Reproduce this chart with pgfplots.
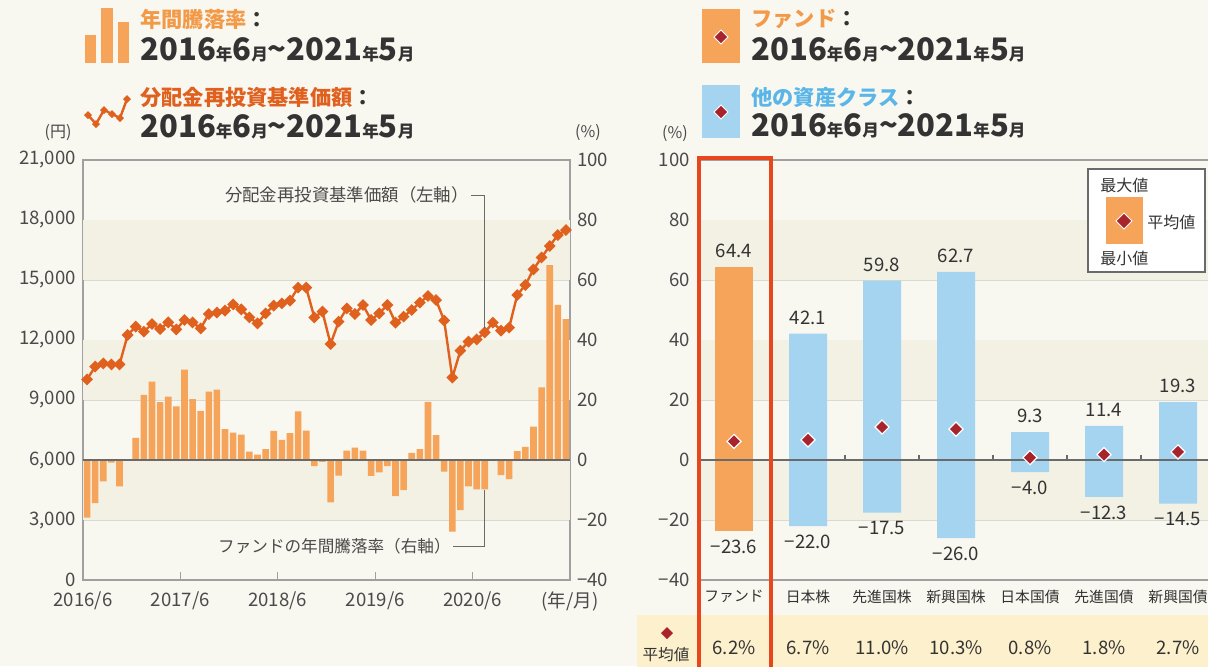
\documentclass[border=0pt]{standalone}
\usepackage{pgfplots}
\pgfplotsset{compat=1.18}
\usepackage{fontspec}
\setmainfont{Noto Sans CJK JP}

\definecolor{pagebg}{HTML}{F8F7F0}
\definecolor{band}{HTML}{F3F1E4}
\definecolor{barorange}{HTML}{F5A45A}
\definecolor{lineorange}{HTML}{E0601E}
\definecolor{titleorange}{HTML}{F39A48}
\definecolor{titleblue}{HTML}{5AB6E8}
\definecolor{barblue}{HTML}{A4D4F0}
\definecolor{diamondred}{HTML}{A8232B}
\definecolor{boxred}{HTML}{E8461E}
\definecolor{tableyellow}{HTML}{FDF0CC}
\definecolor{txt}{HTML}{333333}
\definecolor{labc}{HTML}{4A4A4A}
\definecolor{gridc}{HTML}{DADAD2}
\definecolor{axisc}{HTML}{A0A0A0}
\definecolor{zeroc}{HTML}{6A6A6A}

\newcommand\ym{{\fontsize{8.3pt}{8pt}\selectfont 年}}
\newcommand\mo{{\fontsize{8.3pt}{8pt}\selectfont 月}}
\newcommand\period{{\bfseries\fontsize{15.5pt}{15pt}\selectfont 2016\ym 6\mo\textasciitilde 2021\ym 5\mo}}

\begin{document}
\begin{tikzpicture}
\fill[pagebg] (0,0) rectangle (604pt,-333pt);
\useasboundingbox (0,0) rectangle (604pt,-333pt);

% ---------------- left chart: percent axis (bars) ----------------
\begin{axis}[
  at={(41.5pt,-290pt)}, anchor=south west,
  scale only axis, width=243.5pt, height=210pt,
  xmin=-0.5, xmax=59.5, ymin=-40, ymax=100,
  axis line style={draw=axisc, line width=0.6pt},
  /pgf/number format/assume math mode=true,
  xtick={-0.5,11.5,23.5,35.5,47.5,59.5},
  xticklabels={2016/6,2017/6,2018/6,2019/6,2020/6,(年/月)},
  xtick pos=bottom, xtick align=inside, major tick length=4pt,
  x tick style={draw=axisc, line width=0.6pt},
  ytick={-40,-20,0,20,40,60,80,100},
  yticklabels={−40,−20,0,20,40,60,80,100},
  ytick pos=right, y tick style={draw=none},
  ymajorgrids, grid style={draw=gridc, line width=0.5pt},
  tick label style={font=\fontsize{9.3pt}{10pt}\selectfont, text=labc},
  x tick label style={yshift=-2.5pt},
]
\fill[band] (axis cs:-0.5,-20) rectangle (axis cs:59.5,0);
\fill[band] (axis cs:-0.5,20) rectangle (axis cs:59.5,40);
\fill[band] (axis cs:-0.5,60) rectangle (axis cs:59.5,80);
\addplot[ybar, bar width=3.3pt, fill=barorange, draw=none] coordinates {
(0,-19.2)(1,-14.4)(2,-7.1)(3,-0.9)(4,-8.8)(5,0)(6,7.4)(7,21.7)(8,26.1)(9,19.3)
(10,21.1)(11,17.9)(12,30.1)(13,20.3)(14,16.4)(15,22.8)(16,23.5)(17,10.3)(18,9.1)(19,8.5)
(20,2.8)(21,1.8)(22,3.6)(23,9.7)(24,6.7)(25,9.0)(26,16.2)(27,9.8)(28,-2.0)(29,-0.6)
(30,-14.1)(31,-5.2)(32,3.1)(33,4.1)(34,3.1)(35,-5.3)(36,-4.1)(37,-2.0)(38,-12.0)(39,-10.0)
(40,2.4)(41,3.6)(42,19.4)(43,8.3)(44,-3.9)(45,-23.9)(46,-16.7)(47,-8.8)(48,-9.8)(49,-9.8)
(50,0)(51,-5.0)(52,-6.4)(53,3.0)(54,4.4)(55,11.1)(56,24.2)(57,65.0)(58,51.7)(59,47.0)};
\draw[zeroc, line width=0.7pt] (axis cs:-0.5,0) -- (axis cs:59.5,0);
\end{axis}

% ---------------- left chart: yen axis (line) ----------------
\begin{axis}[
  at={(41.5pt,-290pt)}, anchor=south west,
  scale only axis, width=243.5pt, height=210pt,
  xmin=-0.5, xmax=59.5, ymin=0, ymax=21000,
  axis line style={draw=none},
  xtick=\empty,
  ytick={0,3000,...,21000},
  ytick pos=left, y tick style={draw=none},
  scaled y ticks=false,
  yticklabel style={/pgf/number format/.cd, 1000 sep={,}},
  /pgf/number format/assume math mode=true,
  tick label style={font=\fontsize{9.3pt}{10pt}\selectfont, text=labc},
  clip=false,
]
\addplot[lineorange, line width=1.2pt, mark=square*, mark size=1.5pt,
  mark options={rotate=45, solid, fill=lineorange}] coordinates {
(0,10030)(1,10670)(2,10830)(3,10780)(4,10780)(5,12250)(6,12670)(7,12420)(8,12800)(9,12550)
(10,12880)(11,12530)(12,13000)(13,12880)(14,12580)(15,13300)(16,13370)(17,13470)(18,13780)(19,13530)
(20,13130)(21,12830)(22,13330)(23,13720)(24,13830)(25,13970)(26,14620)(27,14620)(28,13130)(29,13420)
(30,11800)(31,12920)(32,13580)(33,13300)(34,13750)(35,13000)(36,13330)(37,13750)(38,12870)(39,13170)
(40,13500)(41,13870)(42,14200)(43,14000)(44,12970)(45,10120)(46,11470)(47,11920)(48,12030)(49,12380)
(50,12870)(51,12470)(52,12620)(53,14250)(54,14750)(55,15530)(56,16130)(57,16700)(58,17250)(59,17500)};
\end{axis}

% ---------------- right chart ----------------
\begin{axis}[
  at={(348.5pt,-290pt)}, anchor=south west,
  scale only axis, width=255.5pt, height=210pt,
  xmin=-0.5, xmax=6.405, ymin=-40, ymax=100,
  axis line style={draw=none},
  /pgf/number format/assume math mode=true,
  xtick={0,1,2,3,4,5,6},
  xticklabels={ファンド,日本株,先進国株,新興国株,日本国債,先進国債,新興国債},
  x tick style={draw=none}, xtick pos=bottom,
  ytick={-40,-20,0,20,40,60,80,100},
  yticklabels={−40,−20,0,20,40,60,80,100},
  ytick pos=left, y tick style={draw=none},
  ymajorgrids, grid style={draw=gridc, line width=0.5pt},
  tick label style={font=\fontsize{9.3pt}{10pt}\selectfont, text=labc},
  x tick label style={font=\fontsize{7.4pt}{8pt}\selectfont, text=txt, yshift=-1.5pt},
  clip=false,
]
\fill[band] (axis cs:-0.5,-20) rectangle (axis cs:6.405,0);
\fill[band] (axis cs:-0.5,20) rectangle (axis cs:6.405,40);
\fill[band] (axis cs:-0.5,60) rectangle (axis cs:6.405,80);
\draw[axisc, line width=0.6pt] (axis cs:-0.5,100) -- (axis cs:6.405,100);
\draw[axisc, line width=0.6pt] (axis cs:-0.5,-40) -- (axis cs:6.405,-40);
\addplot[ybar, bar width=19pt, fill=barorange, draw=none] coordinates {(0,64.4)};
\addplot[ybar, bar width=19pt, fill=barorange, draw=none] coordinates {(0,-23.6)};
\addplot[ybar, bar width=19pt, fill=barblue, draw=none] coordinates {(1,42.1)(2,59.8)(3,62.7)(4,9.3)(5,11.4)(6,19.3)};
\addplot[ybar, bar width=19pt, fill=barblue, draw=none] coordinates {(1,-22.0)(2,-17.5)(3,-26.0)(4,-4.0)(5,-12.3)(6,-14.5)};
\draw[zeroc, line width=0.7pt] (axis cs:-0.5,0) -- (axis cs:6.405,0);
\pgfplotsinvokeforeach{0.5,1.5,2.5,3.5,4.5,5.5}{\draw[zeroc, line width=0.6pt] (axis cs:#1,0) -- (axis cs:#1,1.8);}
\addplot[only marks, mark=square*, mark size=2.5pt,
  mark options={rotate=45, fill=diamondred, draw=white, line width=0.6pt}]
  coordinates {(0,6.2)(1,6.7)(2,11.0)(3,10.3)(4,0.8)(5,1.8)(6,2.7)};
\addplot[draw=none, nodes near coords, point meta=explicit symbolic,
  nodes near coords align={above},
  every node near coord/.append style={font=\fontsize{9.3pt}{10pt}\selectfont, text=txt, yshift=1pt}]
  coordinates {(0,64.4)[64.4] (1,42.1)[42.1] (2,59.8)[59.8] (3,62.7)[62.7] (4,9.3)[9.3] (5,11.4)[11.4] (6,19.3)[19.3]};
\addplot[draw=none, nodes near coords, point meta=explicit symbolic,
  nodes near coords align={below},
  every node near coord/.append style={font=\fontsize{9.3pt}{10pt}\selectfont, text=txt, yshift=-1pt}]
  coordinates {(0,-23.6)[−23.6] (1,-22.0)[−22.0] (2,-17.5)[−17.5] (3,-26.0)[−26.0] (4,-4.0)[−4.0] (5,-12.3)[−12.3] (6,-14.5)[−14.5]};
\end{axis}

% ---------------- decorations in pixel units ----------------
\begin{scope}[x=0.5pt, y=-0.5pt]
\fill[tableyellow] (637,615) rectangle (1210,670);
\end{scope}

% average values row (data) drawn over the table
\begin{axis}[
  at={(348.5pt,-290pt)}, anchor=south west,
  scale only axis, width=255.5pt, height=210pt,
  xmin=-0.5, xmax=6.405, ymin=-40, ymax=100,
  hide axis, clip=false,
]
\addplot[draw=none, nodes near coords, point meta=explicit symbolic,
  nodes near coords align={below},
  every node near coord/.append style={font=\fontsize{9.3pt}{10pt}\selectfont, text=txt}]
  coordinates {(0,-58)[6.2\%] (1,-58)[6.7\%] (2,-58)[11.0\%] (3,-58)[10.3\%] (4,-58)[0.8\%] (5,-58)[1.8\%] (6,-58)[2.7\%]};
\end{axis}

\begin{scope}[x=0.5pt, y=-0.5pt]
% table left cell
\fill[diamondred] (667,627) -- (673,633) -- (667,639) -- (661,633) -- cycle;
\node[inner sep=0, text=txt, font=\fontsize{7.8pt}{8pt}\selectfont] at (666,655) {平均値};
% red highlight box
\draw[boxred, line width=1.8pt] (699,680) -- (699,158) -- (771,158) -- (771,680);
% legend box right chart
\draw[fill=white, draw=zeroc, line width=0.6pt] (1088,169) rectangle (1205,272);
\node[inner sep=0, text=txt, font=\fontsize{8pt}{8pt}\selectfont, anchor=west] at (1100,185) {最大値};
\fill[barorange] (1106,197) rectangle (1143,244);
\fill[diamondred, draw=white, line width=0.5pt] (1124,213) -- (1132,221) -- (1124,229) -- (1116,221) -- cycle;
\node[inner sep=0, text=txt, font=\fontsize{8pt}{8pt}\selectfont, anchor=west] at (1147,222) {平均値};
\node[inner sep=0, text=txt, font=\fontsize{8pt}{8pt}\selectfont, anchor=west] at (1100,258) {最小値};
% units
\node[inner sep=0, text=labc, font=\fontsize{8pt}{8pt}\selectfont] at (58,133) {(円)};
\node[inner sep=0, text=labc, font=\fontsize{8pt}{8pt}\selectfont] at (588,133) {(\%)};
\node[inner sep=0, text=labc, font=\fontsize{8pt}{8pt}\selectfont] at (675,134) {(\%)};
% annotations left chart
\node[inner sep=0, anchor=east, text=labc, font=\fontsize{8.7pt}{9pt}\selectfont] at (469,195) {分配金再投資基準価額（左軸）};
\draw[zeroc, line width=0.5pt] (471,195) -- (484,195) -- (484,328);
\node[inner sep=0, anchor=east, text=labc, font=\fontsize{8.3pt}{9pt}\selectfont] at (451,546) {ファンドの年間騰落率（右軸）};
\draw[zeroc, line width=0.5pt] (453,546) -- (484,546) -- (484,490);
% header left
\fill[barorange] (85,35) rectangle (96,63);
\fill[barorange] (101,8) rectangle (113,63);
\fill[barorange] (118,22) rectangle (129,63);
\node[inner sep=0, anchor=west, font=\bfseries\fontsize{10.6pt}{11pt}\selectfont] at (140,19) {\textcolor{titleorange}{年間騰落率}\textcolor{txt}{：}};
\node[inner sep=0, anchor=west, text=txt] at (140,50) {\period};
\draw[lineorange, line width=1.2pt] (88,115) -- (96,124) -- (104,110) -- (112,114) -- (120,118) -- (127,99);
\foreach \p in {(88,115),(96,124),(104,110),(112,114),(120,118),(127,99)}
  {\fill[lineorange] \p ++(0,-4) -- ++(4,4) -- ++(-4,4) -- ++(-4,-4) -- cycle;}
\node[inner sep=0, anchor=west, font=\bfseries\fontsize{10.6pt}{11pt}\selectfont] at (140,97) {\textcolor{lineorange}{分配金再投資基準価額}\textcolor{txt}{：}};
\node[inner sep=0, anchor=west, text=txt] at (140,127) {\period};
% header right
\fill[barorange] (702,9) rectangle (740,63);
\fill[diamondred, draw=white, line width=0.5pt] (721,30) -- (728,37) -- (721,44) -- (714,37) -- cycle;
\node[inner sep=0, anchor=west, font=\bfseries\fontsize{10.6pt}{11pt}\selectfont] at (751,19) {\textcolor{titleorange}{ファンド}\textcolor{txt}{：}};
\node[inner sep=0, anchor=west, text=txt] at (751,50) {\period};
\fill[barblue] (702,85) rectangle (740,138);
\fill[diamondred, draw=white, line width=0.5pt] (721,105) -- (728,112) -- (721,119) -- (714,112) -- cycle;
\node[inner sep=0, anchor=west, font=\bfseries\fontsize{10.6pt}{11pt}\selectfont] at (751,97) {\textcolor{titleblue}{他の資産クラス}\textcolor{txt}{：}};
\node[inner sep=0, anchor=west, text=txt] at (751,126) {\period};
\end{scope}
\end{tikzpicture}
\end{document}
